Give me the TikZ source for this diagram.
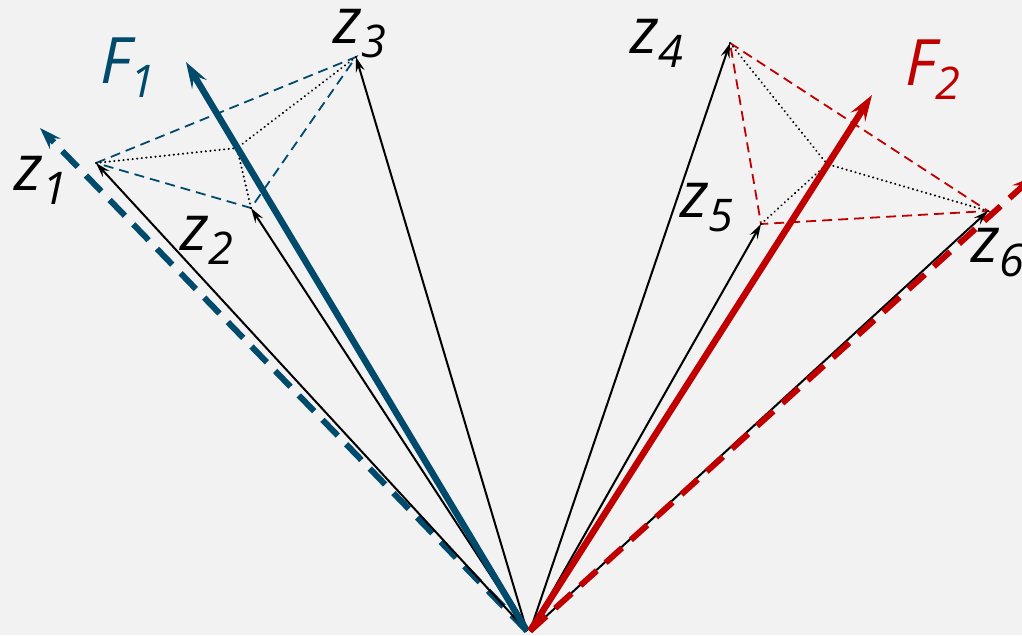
\documentclass[tikz,border=0pt]{standalone}
\usepackage{fontspec}
\setsansfont{Open Sans}
\usetikzlibrary{arrows.meta}
\definecolor{bgc}{RGB}{242,242,242}
\definecolor{fblue}{RGB}{0,74,108}
\definecolor{fred}{RGB}{192,0,0}
\newcommand\zl[2]{{\fontsize{64}{64}\selectfont\sffamily\itshape #1\raisebox{-0.23em}{\fontsize{45}{45}\selectfont #2}}}
\begin{document}
\begin{tikzpicture}[x=1pt,y=-1pt,
  vec/.style={draw=black,line width=2pt,-{Stealth[length=15pt,width=9pt,inset=5.5pt]}},
  force/.style={line width=6.5pt,-{Stealth[length=26pt,width=17pt,inset=10pt]}},
  fdash/.style={line width=6pt,dash pattern=on 22pt off 12pt,-{Stealth[length=22pt,width=15pt,inset=8pt]}},
  tri/.style={line width=1.8pt,dash pattern=on 10pt off 6pt},
  med/.style={line width=2.2pt,dash pattern=on 0.1pt off 4.5pt,line cap=round},
  lab/.style={anchor=base west,inner sep=0pt,text depth=0pt}]
\fill[bgc] (0,0) rectangle (1022,635);
\useasboundingbox (0,0) rectangle (1022,635);
% points
\coordinate (O1) at (527,631);
\coordinate (O2) at (530,631);
\coordinate (z1) at (96,163);
\coordinate (z2) at (251,208);
\coordinate (z3) at (356,57);
\coordinate (c1) at (237,148);
\coordinate (F1) at (186,62);
\coordinate (D1) at (40,128);
\coordinate (z4) at (730,43);
\coordinate (z5) at (761,224);
\coordinate (z6) at (988,211);
\coordinate (c2) at (827,164);
\coordinate (F2) at (872,95);
\coordinate (D2) at (1034,176);
% blue side
\draw[fdash,fblue] (O1) -- (D1);
\draw[tri,fblue] (z1) -- (z3) -- (z2) -- cycle;
\draw[med] (z1) -- (c1) (z2) -- (c1) (z3) -- (c1);
\draw[vec] (O1) -- (z1);
\draw[vec] (O1) -- (z2);
\draw[vec] (O1) -- (z3);
\draw[force,fblue] (O1) -- (F1);
% red side
\draw[tri,fred] (z4) -- (z6) -- (z5) -- cycle;
\draw[med] (z4) -- (c2) (z5) -- (c2) (z6) -- (c2);
\draw[vec] (O2) -- (z4);
\draw[vec] (O2) -- (z5);
\draw[vec] (O2) -- (z6);
\draw[fdash,fred] (O2) -- (D2);
\draw[force,fred] (O2) -- (F2);
% labels
\node[lab] (lz1) at (14,190) {\zl{z}{1}};
\node[lab] (lz2) at (180,250) {\zl{z}{2}};
\node[lab] (lz3) at (333,43) {\zl{z}{3}};
\node[lab] (lz4) at (630,53) {\zl{z}{4}};
\node[lab] (lz5) at (680,217) {\zl{z}{5}};
\node[lab] (lz6) at (971,262) {\zl{z}{6}};
\node[lab,text=fblue] (lF1) at (100,83) {\zl{F}{1}};
\node[lab,text=fred] (lF2) at (905,85) {\zl{F}{2}};
\end{tikzpicture}
\end{document}
